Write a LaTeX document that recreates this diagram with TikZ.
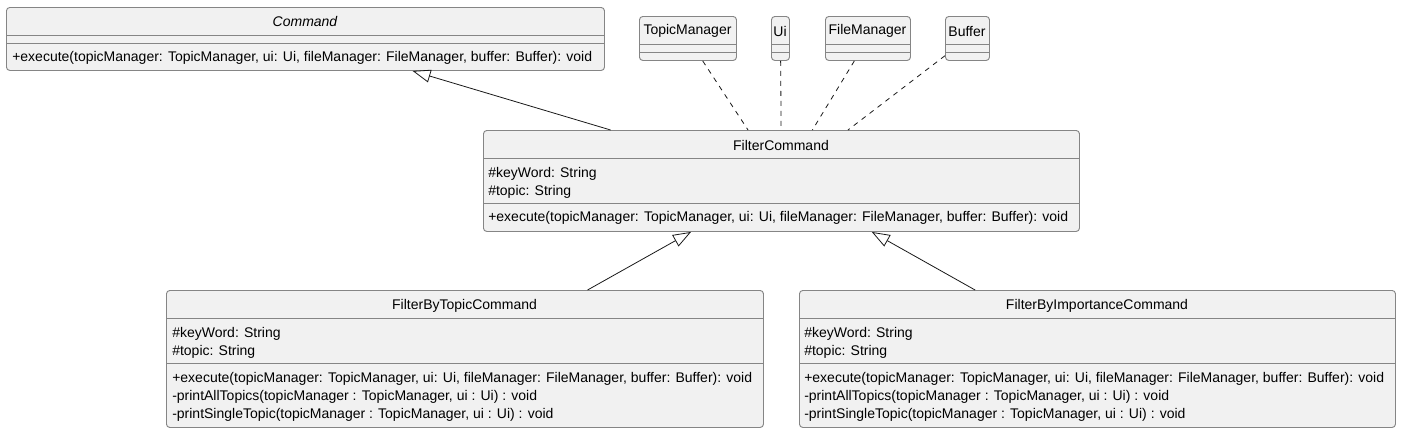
\documentclass[tikz,border=0pt]{standalone}
\definecolor{umlfill}{HTML}{F1F1F1}
\definecolor{umlline}{HTML}{181818}
\definecolor{umlborder}{HTML}{858585}
\usepackage{fontspec}
\setmainfont{Liberation Sans}
\usepackage{tikz}
\usetikzlibrary{arrows.meta}

\begin{document}
\begin{tikzpicture}[x=0.75pt, y=-0.75pt,
    umlbox/.style={draw=umlborder, fill=umlfill, line width=0.7pt, rounded corners=2.5pt, inner sep=0pt, anchor=north west},
    umlsep/.style={umlborder, line width=0.7pt},
    umltext/.style={font=\fontsize{10.5pt}{12pt}\selectfont, inner sep=0pt},
    inherit/.style={-{Triangle[open, length=13.5pt, width=9.75pt]}, umlline, line width=0.6pt},
    uses/.style={umlline, line width=0.6pt, dash pattern=on 3.75pt off 3.75pt}]
        \useasboundingbox (0,0) rectangle (1401,433);
        % Command (abstract)
        \node[umlbox, minimum width=448.5pt, minimum height=47.25pt] (cmd) at (6,7) {};
        \draw[umlsep] (6,35) -- (604,35) (6,43) -- (604,43);
        \node[umltext, font=\fontsize{10.5pt}{12pt}\selectfont\itshape] (cmdname) at (305,21.5) {Command};
        \node[umltext, anchor=west] (cmdexec) at (12,57.5) {+execute(topicManager: TopicManager, ui: Ui, fileManager: FileManager, buffer: Buffer): void};
        % Helper classes
        \node[umlbox, minimum width=72.75pt, minimum height=33pt] (tm) at (639,16) {};
        \node[umlbox, minimum width=13.5pt, minimum height=33pt] (ui) at (771,16) {};
        \node[umlbox, minimum width=63.75pt, minimum height=33pt] (fm) at (825,16) {};
        \node[umlbox, minimum width=33pt, minimum height=33pt] (buf) at (945,16) {};
        \draw[umlsep] (639,44) -- (736,44) (639,52) -- (736,52);
        \draw[umlsep] (771,44) -- (789,44) (771,52) -- (789,52);
        \draw[umlsep] (825,44) -- (910,44) (825,52) -- (910,52);
        \draw[umlsep] (945,44) -- (989,44) (945,52) -- (989,52);
        \node[umltext] (tmname) at (687.5,31) {TopicManager};
        \node[umltext] (uiname) at (780,31) {Ui};
        \node[umltext] (fmname) at (867.5,31) {FileManager};
        \node[umltext] (bufname) at (967,31) {Buffer};
        % FilterCommand
        \node[umlbox, minimum width=447pt, minimum height=75.75pt] (fc) at (483,130) {};
        \draw[umlsep] (483,158) -- (1079,158) (483,203) -- (1079,203);
        \node[umltext] (fcname) at (781,145.5) {FilterCommand};
        \node[umltext, anchor=west] (fckey) at (488,173.5) {\#keyWord: String};
        \node[umltext, anchor=west] (fctopic) at (488,191.5) {\#topic: String};
        \node[umltext, anchor=west] (fcexec) at (488,217.5) {+execute(topicManager: TopicManager, ui: Ui, fileManager: FileManager, buffer: Buffer): void};
        % FilterByTopicCommand
        \node[umlbox, minimum width=447.75pt, minimum height=102.75pt] (fbt) at (166,290) {};
        \draw[umlsep] (166,318) -- (763,318) (166,363) -- (763,363);
        \node[umltext] (fbtname) at (464.5,305.5) {FilterByTopicCommand};
        \node[umltext, anchor=west] (fbtkey) at (172,333.5) {\#keyWord: String};
        \node[umltext, anchor=west] (fbttopic) at (172,351.5) {\#topic: String};
        \node[umltext, anchor=west] (fbtexec) at (172,378.5) {+execute(topicManager: TopicManager, ui: Ui, fileManager: FileManager, buffer: Buffer): void};
        \node[umltext, anchor=west] (fbtall) at (172,396.5) {-printAllTopics(topicManager : TopicManager, ui : Ui) : void};
        \node[umltext, anchor=west] (fbtsingle) at (172,414.5) {-printSingleTopic(topicManager : TopicManager, ui : Ui) : void};
        % FilterByImportanceCommand
        \node[umlbox, minimum width=447pt, minimum height=102.75pt] (fbi) at (799,290) {};
        \draw[umlsep] (799,318) -- (1395,318) (799,363) -- (1395,363);
        \node[umltext] (fbiname) at (1097,305.5) {FilterByImportanceCommand};
        \node[umltext, anchor=west] (fbikey) at (804,333.5) {\#keyWord: String};
        \node[umltext, anchor=west] (fbitopic) at (804,351.5) {\#topic: String};
        \node[umltext, anchor=west] (fbiexec) at (804,378.5) {+execute(topicManager: TopicManager, ui: Ui, fileManager: FileManager, buffer: Buffer): void};
        \node[umltext, anchor=west] (fbiall) at (804,396.5) {-printAllTopics(topicManager : TopicManager, ui : Ui) : void};
        \node[umltext, anchor=west] (fbisingle) at (804,414.5) {-printSingleTopic(topicManager : TopicManager, ui : Ui) : void};
        % Inheritance
        \draw[inherit] (fc) -- (cmd);
        \draw[inherit] (fbt) -- (fc);
        \draw[inherit] (fbi) -- (fc);
        % Dependencies
        \draw[uses] (tm) -- (fc);
        \draw[uses] (ui) -- (fc);
        \draw[uses] (fm) -- (fc);
        \draw[uses] (buf) -- (fc);
      \end{tikzpicture}
\end{document}
